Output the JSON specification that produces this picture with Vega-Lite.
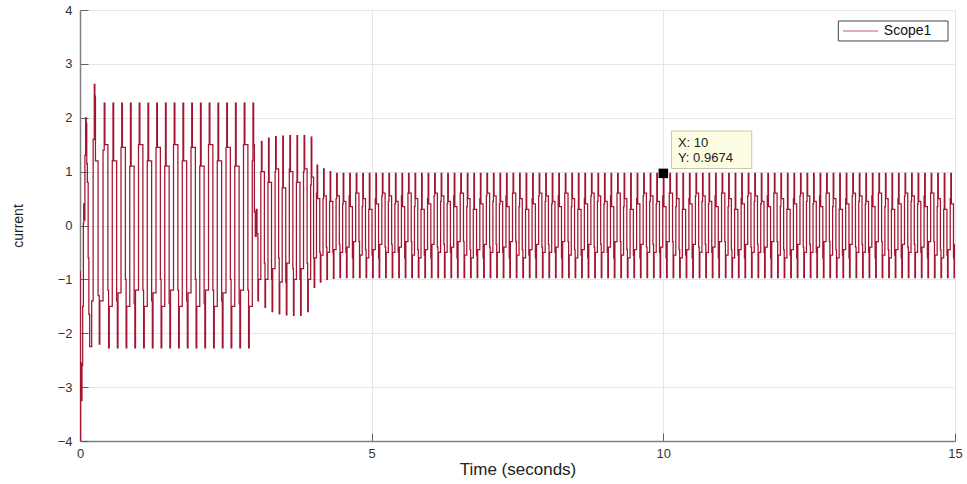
{
"$schema":"https://vega.github.io/schema/vega-lite/v6.json",
"width":875,"height":431,
"autosize":{"type":"none"},
"padding":{"left":80,"top":10,"right":12,"bottom":43},
"background":"white",
"config":{"view":{"stroke":"#e3e3e3","strokeWidth":1},"font":"Liberation Sans"},
"datasets":{"sig":[
{"t":0,"v":-0.85},{"t":0.004,"v":-4},{"t":0.01,"v":-2.55},{"t":0.022,"v":-3.25},{"t":0.034,"v":-2.6},{"t":0.046,"v":-1.5},{"t":0.058,"v":0.05},{"t":0.064,"v":0.4},{"t":0.074,"v":0.1},{"t":0.084,"v":1.3},{"t":0.096,"v":2.0},{"t":0.106,"v":1.9},{"t":0.116,"v":1.15},{"t":0.126,"v":0.8},{"t":0.14,"v":-0.6},{"t":0.152,"v":-1.65},{"t":0.166,"v":-2.25},{"t":0.19,"v":-2.25},{"t":0.2,"v":-1.4},{"t":0.225,"v":1.6},{"t":0.245,"v":2.62},{"t":0.255,"v":2.4},{"t":0.265,"v":1.2},{"t":0.31,"v":-1.3},{"t":0.33,"v":-2.2},{"t":0.34,"v":-1.4},{"t":0.395,"v":1.4},
{"t":0.415,"v":2.27},{"t":0.427,"v":1.5},{"t":0.478,"v":-1.2},{"t":0.49,"v":-2.27},{"t":0.502,"v":-1.5},{"t":0.553,"v":1.2},
{"t":0.565,"v":2.27},{"t":0.577,"v":1.2},{"t":0.628,"v":-1.4},{"t":0.64,"v":-2.27},{"t":0.652,"v":-1.25},{"t":0.703,"v":1.45},
{"t":0.715,"v":2.27},{"t":0.727,"v":1.45},{"t":0.778,"v":-1.0},{"t":0.79,"v":-2.27},{"t":0.802,"v":-1.5},{"t":0.853,"v":1.1},
{"t":0.865,"v":2.27},{"t":0.877,"v":1.1},{"t":0.928,"v":-1.45},{"t":0.94,"v":-2.27},{"t":0.952,"v":-1.2},{"t":1.003,"v":1.5},
{"t":1.015,"v":2.27},{"t":1.027,"v":1.5},{"t":1.078,"v":-1.2},{"t":1.09,"v":-2.27},{"t":1.102,"v":-1.5},{"t":1.153,"v":1.2},
{"t":1.165,"v":2.27},{"t":1.177,"v":1.2},{"t":1.228,"v":-1.4},{"t":1.24,"v":-2.27},{"t":1.252,"v":-1.25},{"t":1.303,"v":1.45},
{"t":1.315,"v":2.27},{"t":1.327,"v":1.45},{"t":1.378,"v":-1.0},{"t":1.39,"v":-2.27},{"t":1.402,"v":-1.5},{"t":1.453,"v":1.1},
{"t":1.465,"v":2.27},{"t":1.477,"v":1.1},{"t":1.528,"v":-1.45},{"t":1.54,"v":-2.27},{"t":1.552,"v":-1.2},{"t":1.603,"v":1.5},
{"t":1.615,"v":2.27},{"t":1.627,"v":1.5},{"t":1.678,"v":-1.2},{"t":1.69,"v":-2.27},{"t":1.702,"v":-1.5},{"t":1.753,"v":1.2},
{"t":1.765,"v":2.27},{"t":1.777,"v":1.2},{"t":1.828,"v":-1.4},{"t":1.84,"v":-2.27},{"t":1.852,"v":-1.25},{"t":1.903,"v":1.45},
{"t":1.915,"v":2.27},{"t":1.927,"v":1.45},{"t":1.978,"v":-1.0},{"t":1.99,"v":-2.27},{"t":2.002,"v":-1.5},{"t":2.053,"v":1.1},
{"t":2.065,"v":2.27},{"t":2.077,"v":1.1},{"t":2.128,"v":-1.45},{"t":2.14,"v":-2.27},{"t":2.152,"v":-1.2},{"t":2.203,"v":1.5},
{"t":2.215,"v":2.27},{"t":2.227,"v":1.5},{"t":2.278,"v":-1.2},{"t":2.29,"v":-2.27},{"t":2.302,"v":-1.5},{"t":2.353,"v":1.2},
{"t":2.365,"v":2.27},{"t":2.377,"v":1.2},{"t":2.428,"v":-1.4},{"t":2.44,"v":-2.27},{"t":2.452,"v":-1.25},{"t":2.503,"v":1.45},
{"t":2.515,"v":2.27},{"t":2.527,"v":1.45},{"t":2.578,"v":-1.0},{"t":2.59,"v":-2.27},{"t":2.602,"v":-1.5},{"t":2.653,"v":1.1},
{"t":2.665,"v":2.27},{"t":2.677,"v":1.1},{"t":2.728,"v":-1.45},{"t":2.74,"v":-2.27},{"t":2.752,"v":-1.2},{"t":2.803,"v":1.5},
{"t":2.815,"v":2.27},{"t":2.827,"v":1.5},{"t":2.878,"v":-1.2},{"t":2.89,"v":-2.27},{"t":2.902,"v":-1.5},{"t":2.953,"v":1.2},
{"t":2.965,"v":2.27},{"t":2.977,"v":1.5},{"t":2.99,"v":0.25},{"t":3.005,"v":-0.2},{"t":3.02,"v":0.3},{"t":3.035,"v":-0.15},{"t":3.05,"v":-1.4},{"t":3.06,"v":-1.0},{"t":3.1,"v":1.0},
{"t":3.11,"v":1.56},{"t":3.12,"v":1.0},{"t":3.161,"v":-0.7},{"t":3.171,"v":-1.52},{"t":3.181,"v":-1.0},{"t":3.222,"v":0.8},
{"t":3.232,"v":1.62},{"t":3.242,"v":0.8},{"t":3.283,"v":-1.0},{"t":3.293,"v":-1.6},{"t":3.303,"v":-0.8},{"t":3.344,"v":1.0},
{"t":3.354,"v":1.65},{"t":3.364,"v":1.05},{"t":3.405,"v":-0.6},{"t":3.415,"v":-1.64},{"t":3.425,"v":-1.05},{"t":3.466,"v":0.7},
{"t":3.476,"v":1.66},{"t":3.486,"v":0.7},{"t":3.527,"v":-1.05},{"t":3.537,"v":-1.66},{"t":3.547,"v":-0.7},{"t":3.588,"v":1.05},
{"t":3.598,"v":1.67},{"t":3.608,"v":1.0},{"t":3.649,"v":-0.8},{"t":3.659,"v":-1.67},{"t":3.669,"v":-1.0},{"t":3.71,"v":0.8},
{"t":3.72,"v":1.67},{"t":3.73,"v":0.8},{"t":3.771,"v":-1.0},{"t":3.781,"v":-1.67},{"t":3.791,"v":-0.8},{"t":3.832,"v":1.0},
{"t":3.842,"v":1.67},{"t":3.852,"v":1.05},{"t":3.893,"v":-0.7},{"t":3.903,"v":-1.6},{"t":3.913,"v":-1.0},{"t":3.954,"v":0.75},
{"t":3.964,"v":1.64},{"t":3.974,"v":0.9},{"t":4.004,"v":-0.6},{"t":4.014,"v":-1.15},{"t":4.024,"v":-0.6},{"t":4.054,"v":0.6},
{"t":4.064,"v":1.12},{"t":4.074,"v":0.5},{"t":4.11,"v":-0.5},{"t":4.12,"v":-1.05},{"t":4.13,"v":-0.55},{"t":4.166,"v":0.5},
{"t":4.176,"v":1.05},{"t":4.186,"v":0.55},{"t":4.222,"v":-0.4},{"t":4.232,"v":-1.0},{"t":4.242,"v":-0.5},{"t":4.278,"v":0.45},
{"t":4.288,"v":1.0},{"t":4.298,"v":0.45},{"t":4.334,"v":-0.5},{"t":4.344,"v":-0.98},{"t":4.354,"v":-0.45},{"t":4.39,"v":0.5},
{"t":4.4,"v":0.967},{"t":4.41,"v":0.55},{"t":4.446,"v":-0.35},{"t":4.456,"v":-0.967},{"t":4.466,"v":-0.5},{"t":4.502,"v":0.4},
{"t":4.512,"v":0.967},{"t":4.522,"v":0.45},{"t":4.558,"v":-0.5},{"t":4.568,"v":-0.967},{"t":4.578,"v":-0.4},{"t":4.614,"v":0.55},
{"t":4.624,"v":0.967},{"t":4.634,"v":0.35},{"t":4.67,"v":-0.6},{"t":4.68,"v":-0.967},{"t":4.69,"v":-0.3},{"t":4.726,"v":0.6},
{"t":4.736,"v":0.967},{"t":4.746,"v":0.6},{"t":4.782,"v":-0.3},{"t":4.792,"v":-0.967},{"t":4.802,"v":-0.55},{"t":4.838,"v":0.35},
{"t":4.848,"v":0.967},{"t":4.858,"v":0.5},{"t":4.894,"v":-0.45},{"t":4.904,"v":-0.967},{"t":4.914,"v":-0.6},{"t":4.95,"v":0.3},
{"t":4.96,"v":0.967},{"t":4.97,"v":0.3},{"t":5.006,"v":-0.55},{"t":5.016,"v":-0.967},{"t":5.026,"v":-0.45},{"t":5.062,"v":0.5},
{"t":5.072,"v":0.967},{"t":5.082,"v":0.4},{"t":5.118,"v":-0.6},{"t":5.128,"v":-0.967},{"t":5.138,"v":-0.35},{"t":5.174,"v":0.55},
{"t":5.184,"v":0.967},{"t":5.194,"v":0.6},{"t":5.23,"v":-0.4},{"t":5.24,"v":-0.967},{"t":5.25,"v":-0.5},{"t":5.286,"v":0.45},
{"t":5.296,"v":0.967},{"t":5.306,"v":0.55},{"t":5.342,"v":-0.35},{"t":5.352,"v":-0.967},{"t":5.362,"v":-0.5},{"t":5.398,"v":0.4},
{"t":5.408,"v":0.967},{"t":5.418,"v":0.45},{"t":5.454,"v":-0.5},{"t":5.464,"v":-0.967},{"t":5.474,"v":-0.4},{"t":5.51,"v":0.55},
{"t":5.52,"v":0.967},{"t":5.53,"v":0.35},{"t":5.566,"v":-0.6},{"t":5.576,"v":-0.967},{"t":5.586,"v":-0.3},{"t":5.622,"v":0.6},
{"t":5.632,"v":0.967},{"t":5.642,"v":0.6},{"t":5.678,"v":-0.3},{"t":5.688,"v":-0.967},{"t":5.698,"v":-0.55},{"t":5.734,"v":0.35},
{"t":5.744,"v":0.967},{"t":5.754,"v":0.5},{"t":5.79,"v":-0.45},{"t":5.8,"v":-0.967},{"t":5.81,"v":-0.6},{"t":5.846,"v":0.3},
{"t":5.856,"v":0.967},{"t":5.866,"v":0.3},{"t":5.902,"v":-0.55},{"t":5.912,"v":-0.967},{"t":5.922,"v":-0.45},{"t":5.958,"v":0.5},
{"t":5.968,"v":0.967},{"t":5.978,"v":0.4},{"t":6.014,"v":-0.6},{"t":6.024,"v":-0.967},{"t":6.034,"v":-0.35},{"t":6.07,"v":0.55},
{"t":6.08,"v":0.967},{"t":6.09,"v":0.6},{"t":6.126,"v":-0.4},{"t":6.136,"v":-0.967},{"t":6.146,"v":-0.5},{"t":6.182,"v":0.45},
{"t":6.192,"v":0.967},{"t":6.202,"v":0.55},{"t":6.238,"v":-0.35},{"t":6.248,"v":-0.967},{"t":6.258,"v":-0.5},{"t":6.294,"v":0.4},
{"t":6.304,"v":0.967},{"t":6.314,"v":0.45},{"t":6.35,"v":-0.5},{"t":6.36,"v":-0.967},{"t":6.37,"v":-0.4},{"t":6.406,"v":0.55},
{"t":6.416,"v":0.967},{"t":6.426,"v":0.35},{"t":6.462,"v":-0.6},{"t":6.472,"v":-0.967},{"t":6.482,"v":-0.3},{"t":6.518,"v":0.6},
{"t":6.528,"v":0.967},{"t":6.538,"v":0.6},{"t":6.574,"v":-0.3},{"t":6.584,"v":-0.967},{"t":6.594,"v":-0.55},{"t":6.63,"v":0.35},
{"t":6.64,"v":0.967},{"t":6.65,"v":0.5},{"t":6.686,"v":-0.45},{"t":6.696,"v":-0.967},{"t":6.706,"v":-0.6},{"t":6.742,"v":0.3},
{"t":6.752,"v":0.967},{"t":6.762,"v":0.3},{"t":6.798,"v":-0.55},{"t":6.808,"v":-0.967},{"t":6.818,"v":-0.45},{"t":6.854,"v":0.5},
{"t":6.864,"v":0.967},{"t":6.874,"v":0.4},{"t":6.91,"v":-0.6},{"t":6.92,"v":-0.967},{"t":6.93,"v":-0.35},{"t":6.966,"v":0.55},
{"t":6.976,"v":0.967},{"t":6.986,"v":0.6},{"t":7.022,"v":-0.4},{"t":7.032,"v":-0.967},{"t":7.042,"v":-0.5},{"t":7.078,"v":0.45},
{"t":7.088,"v":0.967},{"t":7.098,"v":0.55},{"t":7.134,"v":-0.35},{"t":7.144,"v":-0.967},{"t":7.154,"v":-0.5},{"t":7.19,"v":0.4},
{"t":7.2,"v":0.967},{"t":7.21,"v":0.45},{"t":7.246,"v":-0.5},{"t":7.256,"v":-0.967},{"t":7.266,"v":-0.4},{"t":7.302,"v":0.55},
{"t":7.312,"v":0.967},{"t":7.322,"v":0.35},{"t":7.358,"v":-0.6},{"t":7.368,"v":-0.967},{"t":7.378,"v":-0.3},{"t":7.414,"v":0.6},
{"t":7.424,"v":0.967},{"t":7.434,"v":0.6},{"t":7.47,"v":-0.3},{"t":7.48,"v":-0.967},{"t":7.49,"v":-0.55},{"t":7.526,"v":0.35},
{"t":7.536,"v":0.967},{"t":7.546,"v":0.5},{"t":7.582,"v":-0.45},{"t":7.592,"v":-0.967},{"t":7.602,"v":-0.6},{"t":7.638,"v":0.3},
{"t":7.648,"v":0.967},{"t":7.658,"v":0.3},{"t":7.694,"v":-0.55},{"t":7.704,"v":-0.967},{"t":7.714,"v":-0.45},{"t":7.75,"v":0.5},
{"t":7.76,"v":0.967},{"t":7.77,"v":0.4},{"t":7.806,"v":-0.6},{"t":7.816,"v":-0.967},{"t":7.826,"v":-0.35},{"t":7.862,"v":0.55},
{"t":7.872,"v":0.967},{"t":7.882,"v":0.6},{"t":7.918,"v":-0.4},{"t":7.928,"v":-0.967},{"t":7.938,"v":-0.5},{"t":7.974,"v":0.45},
{"t":7.984,"v":0.967},{"t":7.994,"v":0.55},{"t":8.03,"v":-0.35},{"t":8.04,"v":-0.967},{"t":8.05,"v":-0.5},{"t":8.086,"v":0.4},
{"t":8.096,"v":0.967},{"t":8.106,"v":0.45},{"t":8.142,"v":-0.5},{"t":8.152,"v":-0.967},{"t":8.162,"v":-0.4},{"t":8.198,"v":0.55},
{"t":8.208,"v":0.967},{"t":8.218,"v":0.35},{"t":8.254,"v":-0.6},{"t":8.264,"v":-0.967},{"t":8.274,"v":-0.3},{"t":8.31,"v":0.6},
{"t":8.32,"v":0.967},{"t":8.33,"v":0.6},{"t":8.366,"v":-0.3},{"t":8.376,"v":-0.967},{"t":8.386,"v":-0.55},{"t":8.422,"v":0.35},
{"t":8.432,"v":0.967},{"t":8.442,"v":0.5},{"t":8.478,"v":-0.45},{"t":8.488,"v":-0.967},{"t":8.498,"v":-0.6},{"t":8.534,"v":0.3},
{"t":8.544,"v":0.967},{"t":8.554,"v":0.3},{"t":8.59,"v":-0.55},{"t":8.6,"v":-0.967},{"t":8.61,"v":-0.45},{"t":8.646,"v":0.5},
{"t":8.656,"v":0.967},{"t":8.666,"v":0.4},{"t":8.702,"v":-0.6},{"t":8.712,"v":-0.967},{"t":8.722,"v":-0.35},{"t":8.758,"v":0.55},
{"t":8.768,"v":0.967},{"t":8.778,"v":0.6},{"t":8.814,"v":-0.4},{"t":8.824,"v":-0.967},{"t":8.834,"v":-0.5},{"t":8.87,"v":0.45},
{"t":8.88,"v":0.967},{"t":8.89,"v":0.55},{"t":8.926,"v":-0.35},{"t":8.936,"v":-0.967},{"t":8.946,"v":-0.5},{"t":8.982,"v":0.4},
{"t":8.992,"v":0.967},{"t":9.002,"v":0.45},{"t":9.038,"v":-0.5},{"t":9.048,"v":-0.967},{"t":9.058,"v":-0.4},{"t":9.094,"v":0.55},
{"t":9.104,"v":0.967},{"t":9.114,"v":0.35},{"t":9.15,"v":-0.6},{"t":9.16,"v":-0.967},{"t":9.17,"v":-0.3},{"t":9.206,"v":0.6},
{"t":9.216,"v":0.967},{"t":9.226,"v":0.6},{"t":9.262,"v":-0.3},{"t":9.272,"v":-0.967},{"t":9.282,"v":-0.55},{"t":9.318,"v":0.35},
{"t":9.328,"v":0.967},{"t":9.338,"v":0.5},{"t":9.374,"v":-0.45},{"t":9.384,"v":-0.967},{"t":9.394,"v":-0.6},{"t":9.43,"v":0.3},
{"t":9.44,"v":0.967},{"t":9.45,"v":0.3},{"t":9.486,"v":-0.55},{"t":9.496,"v":-0.967},{"t":9.506,"v":-0.45},{"t":9.542,"v":0.5},
{"t":9.552,"v":0.967},{"t":9.562,"v":0.4},{"t":9.598,"v":-0.6},{"t":9.608,"v":-0.967},{"t":9.618,"v":-0.35},{"t":9.654,"v":0.55},
{"t":9.664,"v":0.967},{"t":9.674,"v":0.6},{"t":9.71,"v":-0.4},{"t":9.72,"v":-0.967},{"t":9.73,"v":-0.5},{"t":9.766,"v":0.45},
{"t":9.776,"v":0.967},{"t":9.786,"v":0.55},{"t":9.822,"v":-0.35},{"t":9.832,"v":-0.967},{"t":9.842,"v":-0.5},{"t":9.878,"v":0.4},
{"t":9.888,"v":0.967},{"t":9.898,"v":0.45},{"t":9.934,"v":-0.5},{"t":9.944,"v":-0.967},{"t":9.954,"v":-0.4},{"t":9.99,"v":0.55},
{"t":10.0,"v":0.967},{"t":10.01,"v":0.35},{"t":10.046,"v":-0.6},{"t":10.056,"v":-0.967},{"t":10.066,"v":-0.3},{"t":10.102,"v":0.6},
{"t":10.112,"v":0.967},{"t":10.122,"v":0.6},{"t":10.158,"v":-0.3},{"t":10.168,"v":-0.967},{"t":10.178,"v":-0.55},{"t":10.214,"v":0.35},
{"t":10.224,"v":0.967},{"t":10.234,"v":0.5},{"t":10.27,"v":-0.45},{"t":10.28,"v":-0.967},{"t":10.29,"v":-0.6},{"t":10.326,"v":0.3},
{"t":10.336,"v":0.967},{"t":10.346,"v":0.3},{"t":10.382,"v":-0.55},{"t":10.392,"v":-0.967},{"t":10.402,"v":-0.45},{"t":10.438,"v":0.5},
{"t":10.448,"v":0.967},{"t":10.458,"v":0.4},{"t":10.494,"v":-0.6},{"t":10.504,"v":-0.967},{"t":10.514,"v":-0.35},{"t":10.55,"v":0.55},
{"t":10.56,"v":0.967},{"t":10.57,"v":0.6},{"t":10.606,"v":-0.4},{"t":10.616,"v":-0.967},{"t":10.626,"v":-0.5},{"t":10.662,"v":0.45},
{"t":10.672,"v":0.967},{"t":10.682,"v":0.55},{"t":10.718,"v":-0.35},{"t":10.728,"v":-0.967},{"t":10.738,"v":-0.5},{"t":10.774,"v":0.4},
{"t":10.784,"v":0.967},{"t":10.794,"v":0.45},{"t":10.83,"v":-0.5},{"t":10.84,"v":-0.967},{"t":10.85,"v":-0.4},{"t":10.886,"v":0.55},
{"t":10.896,"v":0.967},{"t":10.906,"v":0.35},{"t":10.942,"v":-0.6},{"t":10.952,"v":-0.967},{"t":10.962,"v":-0.3},{"t":10.998,"v":0.6},
{"t":11.008,"v":0.967},{"t":11.018,"v":0.6},{"t":11.054,"v":-0.3},{"t":11.064,"v":-0.967},{"t":11.074,"v":-0.55},{"t":11.11,"v":0.35},
{"t":11.12,"v":0.967},{"t":11.13,"v":0.5},{"t":11.166,"v":-0.45},{"t":11.176,"v":-0.967},{"t":11.186,"v":-0.6},{"t":11.222,"v":0.3},
{"t":11.232,"v":0.967},{"t":11.242,"v":0.3},{"t":11.278,"v":-0.55},{"t":11.288,"v":-0.967},{"t":11.298,"v":-0.45},{"t":11.334,"v":0.5},
{"t":11.344,"v":0.967},{"t":11.354,"v":0.4},{"t":11.39,"v":-0.6},{"t":11.4,"v":-0.967},{"t":11.41,"v":-0.35},{"t":11.446,"v":0.55},
{"t":11.456,"v":0.967},{"t":11.466,"v":0.6},{"t":11.502,"v":-0.4},{"t":11.512,"v":-0.967},{"t":11.522,"v":-0.5},{"t":11.558,"v":0.45},
{"t":11.568,"v":0.967},{"t":11.578,"v":0.55},{"t":11.614,"v":-0.35},{"t":11.624,"v":-0.967},{"t":11.634,"v":-0.5},{"t":11.67,"v":0.4},
{"t":11.68,"v":0.967},{"t":11.69,"v":0.45},{"t":11.726,"v":-0.5},{"t":11.736,"v":-0.967},{"t":11.746,"v":-0.4},{"t":11.782,"v":0.55},
{"t":11.792,"v":0.967},{"t":11.802,"v":0.35},{"t":11.838,"v":-0.6},{"t":11.848,"v":-0.967},{"t":11.858,"v":-0.3},{"t":11.894,"v":0.6},
{"t":11.904,"v":0.967},{"t":11.914,"v":0.6},{"t":11.95,"v":-0.3},{"t":11.96,"v":-0.967},{"t":11.97,"v":-0.55},{"t":12.006,"v":0.35},
{"t":12.016,"v":0.967},{"t":12.026,"v":0.5},{"t":12.062,"v":-0.45},{"t":12.072,"v":-0.967},{"t":12.082,"v":-0.6},{"t":12.118,"v":0.3},
{"t":12.128,"v":0.967},{"t":12.138,"v":0.3},{"t":12.174,"v":-0.55},{"t":12.184,"v":-0.967},{"t":12.194,"v":-0.45},{"t":12.23,"v":0.5},
{"t":12.24,"v":0.967},{"t":12.25,"v":0.4},{"t":12.286,"v":-0.6},{"t":12.296,"v":-0.967},{"t":12.306,"v":-0.35},{"t":12.342,"v":0.55},
{"t":12.352,"v":0.967},{"t":12.362,"v":0.6},{"t":12.398,"v":-0.4},{"t":12.408,"v":-0.967},{"t":12.418,"v":-0.5},{"t":12.454,"v":0.45},
{"t":12.464,"v":0.967},{"t":12.474,"v":0.55},{"t":12.51,"v":-0.35},{"t":12.52,"v":-0.967},{"t":12.53,"v":-0.5},{"t":12.566,"v":0.4},
{"t":12.576,"v":0.967},{"t":12.586,"v":0.45},{"t":12.622,"v":-0.5},{"t":12.632,"v":-0.967},{"t":12.642,"v":-0.4},{"t":12.678,"v":0.55},
{"t":12.688,"v":0.967},{"t":12.698,"v":0.35},{"t":12.734,"v":-0.6},{"t":12.744,"v":-0.967},{"t":12.754,"v":-0.3},{"t":12.79,"v":0.6},
{"t":12.8,"v":0.967},{"t":12.81,"v":0.6},{"t":12.846,"v":-0.3},{"t":12.856,"v":-0.967},{"t":12.866,"v":-0.55},{"t":12.902,"v":0.35},
{"t":12.912,"v":0.967},{"t":12.922,"v":0.5},{"t":12.958,"v":-0.45},{"t":12.968,"v":-0.967},{"t":12.978,"v":-0.6},{"t":13.014,"v":0.3},
{"t":13.024,"v":0.967},{"t":13.034,"v":0.3},{"t":13.07,"v":-0.55},{"t":13.08,"v":-0.967},{"t":13.09,"v":-0.45},{"t":13.126,"v":0.5},
{"t":13.136,"v":0.967},{"t":13.146,"v":0.4},{"t":13.182,"v":-0.6},{"t":13.192,"v":-0.967},{"t":13.202,"v":-0.35},{"t":13.238,"v":0.55},
{"t":13.248,"v":0.967},{"t":13.258,"v":0.6},{"t":13.294,"v":-0.4},{"t":13.304,"v":-0.967},{"t":13.314,"v":-0.5},{"t":13.35,"v":0.45},
{"t":13.36,"v":0.967},{"t":13.37,"v":0.55},{"t":13.406,"v":-0.35},{"t":13.416,"v":-0.967},{"t":13.426,"v":-0.5},{"t":13.462,"v":0.4},
{"t":13.472,"v":0.967},{"t":13.482,"v":0.45},{"t":13.518,"v":-0.5},{"t":13.528,"v":-0.967},{"t":13.538,"v":-0.4},{"t":13.574,"v":0.55},
{"t":13.584,"v":0.967},{"t":13.594,"v":0.35},{"t":13.63,"v":-0.6},{"t":13.64,"v":-0.967},{"t":13.65,"v":-0.3},{"t":13.686,"v":0.6},
{"t":13.696,"v":0.967},{"t":13.706,"v":0.6},{"t":13.742,"v":-0.3},{"t":13.752,"v":-0.967},{"t":13.762,"v":-0.55},{"t":13.798,"v":0.35},
{"t":13.808,"v":0.967},{"t":13.818,"v":0.5},{"t":13.854,"v":-0.45},{"t":13.864,"v":-0.967},{"t":13.874,"v":-0.6},{"t":13.91,"v":0.3},
{"t":13.92,"v":0.967},{"t":13.93,"v":0.3},{"t":13.966,"v":-0.55},{"t":13.976,"v":-0.967},{"t":13.986,"v":-0.45},{"t":14.022,"v":0.5},
{"t":14.032,"v":0.967},{"t":14.042,"v":0.4},{"t":14.078,"v":-0.6},{"t":14.088,"v":-0.967},{"t":14.098,"v":-0.35},{"t":14.134,"v":0.55},
{"t":14.144,"v":0.967},{"t":14.154,"v":0.6},{"t":14.19,"v":-0.4},{"t":14.2,"v":-0.967},{"t":14.21,"v":-0.5},{"t":14.246,"v":0.45},
{"t":14.256,"v":0.967},{"t":14.266,"v":0.55},{"t":14.302,"v":-0.35},{"t":14.312,"v":-0.967},{"t":14.322,"v":-0.5},{"t":14.358,"v":0.4},
{"t":14.368,"v":0.967},{"t":14.378,"v":0.45},{"t":14.414,"v":-0.5},{"t":14.424,"v":-0.967},{"t":14.434,"v":-0.4},{"t":14.47,"v":0.55},
{"t":14.48,"v":0.967},{"t":14.49,"v":0.35},{"t":14.526,"v":-0.6},{"t":14.536,"v":-0.967},{"t":14.546,"v":-0.3},{"t":14.582,"v":0.6},
{"t":14.592,"v":0.967},{"t":14.602,"v":0.6},{"t":14.638,"v":-0.3},{"t":14.648,"v":-0.967},{"t":14.658,"v":-0.55},{"t":14.694,"v":0.35},
{"t":14.704,"v":0.967},{"t":14.714,"v":0.5},{"t":14.75,"v":-0.45},{"t":14.76,"v":-0.967},{"t":14.77,"v":-0.6},{"t":14.806,"v":0.3},
{"t":14.816,"v":0.967},{"t":14.826,"v":0.3},{"t":14.862,"v":-0.55},{"t":14.872,"v":-0.967},{"t":14.882,"v":-0.45},{"t":14.918,"v":0.5},
{"t":14.928,"v":0.967},{"t":14.938,"v":0.4},{"t":14.974,"v":-0.6},{"t":14.984,"v":-0.967},{"t":14.994,"v":-0.35},{"t":15.03,"v":0.55}
]},
"encoding":{
"x":{"field":"t","type":"quantitative","scale":{"domain":[0,15],"nice":false,"zero":false},
"axis":{"title":"Time (seconds)","values":[0,5,10,15],"format":"d","grid":true,"gridColor":"#e6e6e6","gridWidth":1,"domainColor":"#808080","domainWidth":1.5,"tickColor":"#606060","tickSize":-8,"labelFont":"Liberation Sans","labelFontSize":13,"labelColor":"#333333","labelPadding":14,"labelFlush":false,"labelOverlap":false,"titleFont":"Liberation Sans","titleFontSize":17,"titleFontWeight":"normal","titleColor":"#222222","titlePadding":1}},
"y":{"field":"v","type":"quantitative","scale":{"domain":[-4,4],"nice":false,"zero":false},
"axis":{"title":"current","values":[-4,-3,-2,-1,0,1,2,3,4],"grid":true,"gridColor":"#e6e6e6","gridWidth":1,"domainColor":"#808080","domainWidth":1.5,"tickColor":"#606060","tickSize":-8,"labelFont":"Liberation Sans","labelFontSize":13,"labelColor":"#333333","labelPadding":16,"labelFlush":false,"labelOverlap":false,"titleFont":"Liberation Sans","titleFontSize":14,"titleFontWeight":"normal","titleColor":"#222222","titleX":-62,"titleY":215.5,"titleAngle":270,"titleAlign":"center","titleBaseline":"middle"}}
},
"layer":[
{"data":{"name":"sig"},"mark":{"type":"line","interpolate":"step-after","strokeWidth":1.25,"clip":true,"color":"#A2142F"}},
{"data":{"values":[{"t":10.14,"t2":11.515,"v":1.754,"v2":1.058}]},"mark":{"type":"rect","fill":"#fdfde3","stroke":"#c9c9b0","strokeWidth":1},"encoding":{"x2":{"field":"t2"},"y2":{"field":"v2"}}},
{"data":{"values":[{"t":10.25,"v":1.526,"label":"X: 10"},{"t":10.25,"v":1.247,"label":"Y: 0.9674"}]},"mark":{"type":"text","align":"left","baseline":"middle","font":"Liberation Sans","fontSize":13,"color":"#222222"},"encoding":{"text":{"field":"label"}}},
{"data":{"values":[{"t":10,"v":0.9674}]},"mark":{"type":"square","filled":true,"color":"#000000","size":90,"opacity":1}},
{"data":{"values":[{"t":13.0,"t2":14.88,"v":3.796,"v2":3.425}]},"mark":{"type":"rect","fill":"#ffffff","stroke":"#444444","strokeWidth":1},"encoding":{"x2":{"field":"t2"},"y2":{"field":"v2"}}},
{"data":{"values":[{"t":13.08,"t2":13.68,"v":3.61,"series":"Scope1"}]},"mark":{"type":"rule","strokeWidth":1,"color":"#c65a74"},"encoding":{"x2":{"field":"t2"}}},
{"data":{"values":[{"t":13.78,"v":3.61,"series":"Scope1"}]},"mark":{"type":"text","align":"left","baseline":"middle","font":"Liberation Sans","fontSize":14,"color":"#111111"},"encoding":{"text":{"field":"series"}}}
]
}
